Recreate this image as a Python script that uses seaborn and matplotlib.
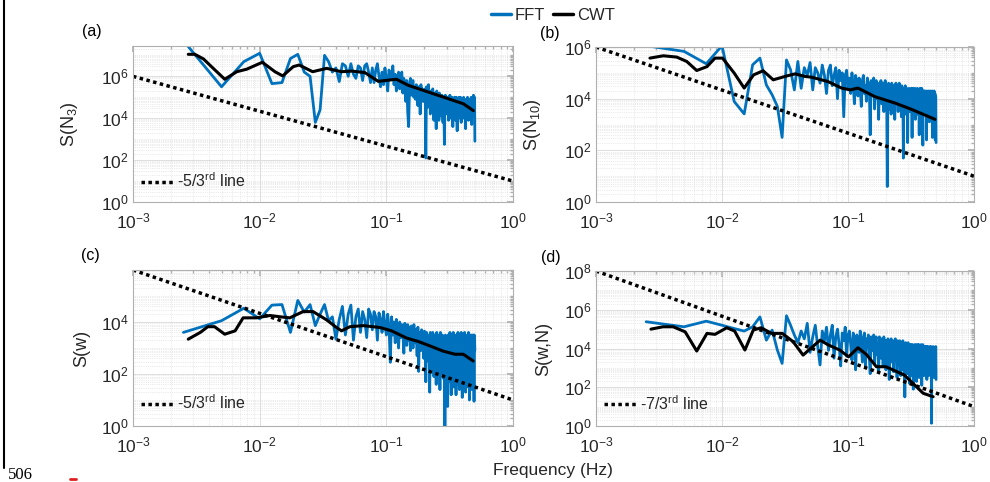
import numpy as np
import matplotlib
matplotlib.use("Agg")
import matplotlib.pyplot as plt
from matplotlib.lines import Line2D
from matplotlib.ticker import LogLocator, NullFormatter
import seaborn as sns

# FFT bins are k * 0.0025 Hz (k = 1..200); all spectra below are log10 values
bin_width = 0.0025

fft_a = [7.7, 5.5, 6.7, 7.1, 5.65, 5.7, 6.85, 7.05, 6.2, 6.0,
         3.8, 4.4, 7.0, 6.7, 6.2, 6.4, 5.75, 6.6, 6.5, 6.0,
         6.6, 6.1, 5.9, 6.5, 6.4, 5.8, 6.5, 6.6, 6.2, 5.7,
         6.4, 5.7, 6.3, 6.6, 6.0, 5.5, 6.2, 5.6, 6.4, 5.9,
         5.3, 6.3, 6.0, 5.9, 6.5, 5.6, 6.1, 5.3, 5.8, 6.2,
         5.4, 6.0, 6.2, 5.2, 5.9, 5.5, 4.8, 5.8, 4.3, 3.6,
         5.6, 5.9, 5.1, 5.7, 5.8, 5.0, 5.4, 4.9, 5.6, 5.3,
         4.6, 5.5, 5.2, 4.2, 5.6, 5.0, 5.4, 4.8, 5.3, 5.1,
         5.4, 2.1, 5.5, 4.5, 5.2, 5.6, 4.7, 5.1, 4.2, 5.3,
         5.0, 4.4, 5.4, 4.8, 3.9, 5.2, 4.6, 5.0, 3.5, 5.3,
         4.5, 5.1, 4.8, 3.9, 5.2, 4.4, 5.0, 4.7, 4.1, 5.1,
         4.6, 3.8, 5.0, 4.3, 2.75, 4.9, 5.1, 4.2, 4.7, 4.9,
         4.3, 5.0, 4.6, 3.9, 4.9, 4.5, 5.1, 4.0, 4.7, 4.8,
         4.2, 5.0, 4.4, 3.6, 4.9, 4.6, 4.1, 5.0, 4.5, 4.8,
         3.9, 4.7, 5.0, 4.3, 3.4, 4.9, 4.5, 4.7, 4.0, 5.0,
         4.6, 4.2, 4.8, 5.0, 4.4, 3.8, 4.9, 4.5, 4.7, 4.1,
         4.8, 4.4, 5.0, 4.0, 4.6, 4.9, 4.2, 4.7, 3.5, 4.8,
         4.5, 4.9, 4.1, 4.6, 5.0, 4.3, 4.7, 3.9, 4.8, 4.5,
         4.2, 4.9, 4.6, 4.0, 4.8, 4.4, 5.0, 4.3, 3.7, 4.7,
         4.9, 4.5, 4.1, 4.8, 5.1, 4.4, 4.6, 4.9, 5.0, 2.9]

fft_b = [6.05, 5.83, 5.35, 6.05, 3.89, 3.41, 5.31, 5.57, 4.53, 4.15,
         3.7, 2.5, 5.5, 5.12, 4.34, 5.44, 4.4, 5.2, 4.9, 5.4,
         4.34, 5.2, 5.0, 4.6, 5.3, 4.9, 4.2, 5.1, 5.3, 4.5,
         4.9, 5.2, 4.0, 5.1, 4.7, 5.0, 3.3, 4.9, 5.1, 4.4,
         4.8, 4.2, 5.0, 4.5, 3.8, 4.9, 4.6, 4.1, 4.8, 4.4,
         3.7, 4.7, 4.9, 4.2, 4.5, 3.9, 4.8, 4.3, 4.6, 2.6,
         4.7, 4.1, 4.5, 4.8, 3.6, 4.4, 4.7, 4.0, 4.6, 3.2,
         4.5, 4.2, 4.7, 3.8, 4.4, 4.6, 3.5, 4.3, 4.7, 4.0,
         4.5, 0.6, 4.4, 4.6, 3.6, 4.2, 4.5, 3.4, 4.6, 4.1,
         3.8, 4.5, 4.3, 3.2, 4.4, 4.6, 3.9, 4.2, 4.5, 3.5,
         4.3, 4.6, 3.7, 4.1, 4.4, 3.3, 4.5, 4.0, 4.3, 1.7,
         4.4, 3.8, 4.2, 4.5, 3.4, 4.1, 4.4, 3.9, 2.3, 4.3,
         4.0, 4.4, 3.5, 4.2, 4.3, 3.7, 4.4, 3.9, 2.5, 4.2,
         4.4, 3.6, 4.1, 4.3, 3.8, 4.4, 3.2, 4.0, 4.3, 3.7,
         4.2, 4.4, 3.4, 4.1, 4.3, 3.9, 2.6, 4.2, 4.4, 3.6,
         4.0, 4.3, 3.8, 4.4, 3.3, 4.1, 2.2, 4.2, 4.3, 3.7,
         4.1, 4.3, 3.5, 4.0, 4.2, 3.8, 4.3, 2.4, 4.1, 3.9,
         4.2, 3.4, 4.3, 4.0, 3.7, 4.2, 3.1, 4.1, 4.3, 3.6,
         4.0, 4.2, 3.3, 4.1, 3.8, 4.3, 2.5, 4.0, 4.2, 3.5,
         4.1, 3.9, 4.3, 3.2, 4.0, 4.2, 2.4, 4.1, 4.07, 2.3]

fft_c = [3.6, 4.05, 4.53, 4.12, 4.65, 4.67, 3.6, 4.83, 4.38, 4.67,
         3.86, 4.3, 4.67, 4.05, 4.2, 3.34, 4.1, 4.6, 3.5, 4.3,
         4.65, 3.3, 4.2, 4.5, 3.6, 4.4, 4.1, 3.4, 4.5, 4.3,
         3.7, 4.4, 4.2, 3.3, 4.35, 4.1, 3.6, 4.4, 3.9, 3.5,
         4.3, 3.8, 2.45, 4.2, 3.5, 4.0, 3.2, 4.1, 3.7, 3.0,
         4.0, 3.4, 3.9, 3.6, 2.8, 3.95, 3.5, 3.1, 3.9, 3.3,
         3.8, 2.9, 3.85, 3.5, 3.0, 3.9, 3.2, 3.7, 3.4, 2.7,
         3.8, 2.1, 3.6, 3.4, 2.9, 3.7, 3.1, 3.6, 2.6, 3.65,
         3.5, 1.7, 3.6, 3.0, 2.5, 3.5, 3.2, 1.3, 3.6, 2.8,
         3.4, 2.2, 3.6, 3.1, 1.9, 3.5, 2.7, 3.3, 1.6, 3.6,
         2.9, 3.4, 2.1, 3.5, 3.0, 1.4, 3.6, 2.6, 3.2, 2.0,
         3.5, 2.8, 3.4, 1.8, 3.3, -0.2, 3.5, 2.5, 3.2, 1.5,
         3.4, 0.75, 3.5, 2.9, 3.3, 1.7, 3.6, 2.4, 3.2, 1.2,
         3.5, 2.7, 3.4, 2.0, 3.6, 1.5, 3.3, 2.8, 3.5, 1.9,
         3.4, 1.2, 3.5, 2.6, 3.3, 1.6, 3.6, 2.2, 3.4, 2.9,
         1.4, 3.5, 2.5, 3.3, 1.9, 3.6, 2.3, 3.2, 1.1, 3.4,
         2.7, 3.5, 1.7, 3.3, 2.4, 3.6, 2.0, 3.4, 1.3, 3.5,
         2.8, 3.2, 1.8, 3.5, 2.5, 3.4, 1.5, 3.6, 2.2, 3.3,
         1.0, 3.5, 2.6, 3.4, 1.9, 3.5, 2.3, 3.2, 1.4, 3.5,
         2.7, 3.4, 1.8, 3.5, 2.1, 3.3, 0.95, 3.5, 3.4, 2.9]

fft_d = [5.38, 5.12, 5.41, 5.2, 5.03, 4.9, 5.12, 5.63, 4.43, 4.95,
         3.92, 3.23, 5.69, 5.2, 4.7, 4.3, 4.9, 4.5, 5.3, 3.8,
         4.6, 5.2, 4.1, 3.15, 4.9, 4.4, 5.1, 3.9, 4.7, 5.2,
         3.5, 4.6, 5.0, 4.2, 3.1, 4.8, 4.4, 5.1, 3.6, 4.7,
         4.9, 4.2, 3.4, 4.8, 4.5, 2.9, 4.7, 4.3, 3.8, 4.9,
         4.1, 3.3, 4.6, 4.8, 3.0, 4.5, 4.2, 4.7, 3.6, 2.7,
         4.6, 4.3, 3.9, 4.7, 3.2, 4.4, 4.6, 3.7, 4.2, 2.8,
         4.6, 4.0, 3.5, 4.5, 4.3, 3.1, 4.6, 3.8, 4.4, 2.9,
         4.4, 3.6, 4.5, 4.1, 2.4, 4.3, 3.9, 4.5, 3.3, 4.2,
         4.4, 2.8, 4.3, 3.8, 4.5, 3.4, 4.1, 2.5, 4.4, 3.9,
         4.2, 3.1, 4.4, 3.7, 2.6, 4.3, 4.0, 3.5, 4.4, 2.9,
         4.2, 3.8, 1.5, 4.1, 4.3, 3.3, 4.2, 2.7, 4.0, 4.3,
         3.6, 4.1, 2.2, 4.2, 3.9, 3.2, 4.2, 2.6, 4.0, 4.2,
         3.4, 1.9, 4.1, 3.8, 4.2, 2.8, 4.0, 3.5, 4.2, 2.3,
         4.1, 3.7, 4.2, 3.0, 3.9, 4.2, 2.5, 4.0, 3.6, 4.1,
         2.9, 4.2, 3.8, 2.1, 4.1, 3.5, 4.2, 3.0, 4.0, 2.6,
         4.1, 3.6, 4.0, 2.8, 4.1, 3.3, 3.9, 4.1, 2.4, 4.0,
         3.7, 4.1, 3.1, 3.9, 2.6, 4.0, 3.5, 4.1, 2.9, 3.8,
         4.0, 3.2, 4.1, 0.14, 3.9, 3.6, 4.0, 2.7, 3.8, 4.1,
         3.3, 3.9, 2.5, 4.0, 3.7, 4.0, 3.0, 3.9, 4.1, 2.4]

# CWT (wavelet) spectra: frequency (Hz) and log10 value
cwt_f_a = [0.00273, 0.00308, 0.0036, 0.0043, 0.0053, 0.0066, 0.0079, 0.0105,
           0.0132, 0.0152, 0.0184, 0.0205, 0.0262, 0.0338, 0.0443, 0.053,
           0.0676, 0.0863, 0.12, 0.149, 0.207, 0.298, 0.405, 0.487]
cwt_a = [7.05, 7.05, 6.83, 6.38, 5.86, 6.22, 6.34, 6.67,
         6.22, 6.02, 6.46, 6.54, 6.22, 6.38, 6.22, 6.25,
         6.18, 5.76, 5.86, 5.57, 5.28, 4.96, 4.69, 4.36]

cwt_f_b = [0.00268, 0.00342, 0.00437, 0.00525, 0.0063, 0.0076, 0.0088, 0.0101,
           0.0125, 0.015, 0.0178, 0.0212, 0.0255, 0.0327, 0.038, 0.0455,
           0.0515, 0.0695, 0.089, 0.104, 0.12, 0.163, 0.236, 0.318, 0.406, 0.49]
cwt_b = [5.57, 5.66, 5.61, 5.44, 5.09, 5.24, 5.57, 5.57,
         4.99, 4.41, 4.92, 5.08, 4.73, 4.88, 4.96, 4.86,
         4.83, 4.66, 4.41, 4.34, 4.41, 4.08, 3.83, 3.59, 3.37, 3.2]

cwt_f_c = [0.00273, 0.0034, 0.0039, 0.0044, 0.0053, 0.0064, 0.0074, 0.0094,
           0.0121, 0.0145, 0.0173, 0.022, 0.0264, 0.0338, 0.0404, 0.0443,
           0.0516, 0.0657, 0.089, 0.11, 0.145, 0.179, 0.221, 0.281, 0.348,
           0.405, 0.485]
cwt_c = [3.34, 3.6, 3.82, 3.82, 3.53, 3.66, 4.16, 4.16,
         4.25, 4.2, 4.16, 4.4, 4.4, 4.08, 3.79, 3.66,
         3.82, 3.86, 3.79, 3.66, 3.38, 3.25, 3.08, 2.88, 2.76,
         2.76, 2.5]

cwt_f_d = [0.00273, 0.0034, 0.0041, 0.0051, 0.0063, 0.0076, 0.0088, 0.0109,
           0.0126, 0.0152, 0.0177, 0.0204, 0.0248, 0.0301, 0.0367, 0.044,
           0.06, 0.07, 0.086, 0.101, 0.12, 0.14, 0.168, 0.2, 0.28, 0.395, 0.474]
cwt_d = [5.0, 5.12, 5.12, 4.86, 3.87, 4.78, 4.73, 5.07,
         4.9, 3.92, 4.95, 5.07, 4.78, 4.78, 4.35, 3.66,
         4.43, 4.18, 3.92, 3.57, 4.04, 3.69, 3.06, 3.06, 2.63, 1.69, 1.51]

# reference power-law lines (end points)
ref_x = [1e-3, 1.0]
ref_53 = [1e6, 1e1]
ref_73 = [1e8, 1e1]

panel_labels = ["(a)", "(b)", "(c)", "(d)"]
y_labels = ["S(N$_3$)", "S(N$_{10}$)", "S(w)", "S(w,N)"]
ref_labels = ["-5/3$^{\\mathrm{rd}}$ line", None, "-5/3$^{\\mathrm{rd}}$ line",
              "-7/3$^{\\mathrm{rd}}$ line"]

for arr in (fft_a, fft_b, fft_c, fft_d):
    assert len(arr) == 200, len(arr)
freq = np.arange(1, 201) * bin_width

sns.set_theme(style="white")
plt.rcParams["font.family"] = ["Liberation Sans", "DejaVu Sans"]
plt.rcParams["mathtext.fontset"] = "custom"
plt.rcParams["mathtext.rm"] = "Liberation Sans"
plt.rcParams["mathtext.it"] = "Liberation Sans:italic"
plt.rcParams["mathtext.bf"] = "Liberation Sans:bold"

blue = "#0072BD"
gray_edge = "#b0b0b0"
text_c = "#262626"

W, H = 990, 482
fig = plt.figure(figsize=(W / 100, H / 100), dpi=100)

# axes rectangles in pixels: left, top, right, bottom
rects = [(133, 46, 513, 202), (596, 47, 974, 202),
         (133, 270, 513, 426), (596, 271, 974, 426)]
ylims = [(1, 2.8e7), (1, 1e6), (1, 1e6), (1, 1e8)]
yticks = [[1, 1e2, 1e4, 1e6], [1, 1e2, 1e4, 1e6], [1, 1e2, 1e4],
          [1, 1e2, 1e4, 1e6, 1e8]]
ffts = [fft_a, fft_b, fft_c, fft_d]
cwt_fs = [cwt_f_a, cwt_f_b, cwt_f_c, cwt_f_d]
cwts = [cwt_a, cwt_b, cwt_c, cwt_d]
refs = [ref_53, ref_53, ref_53, ref_73]
ylab_x = [-0.139, -0.14, -0.113, -0.116]
plab_x = [-0.108, -0.122, -0.113, -0.119]
leg_y = [0.135, 0.0, 0.147, 0.147]

for i in range(4):
    l, t, r, b = rects[i]
    ax = fig.add_axes([l / W, 1 - b / H, (r - l) / W, (b - t) / H])
    ax.set_xscale("log")
    ax.set_yscale("log")

    sns.lineplot(x=freq, y=10 ** np.array(ffts[i]), ax=ax, color=blue,
                 linewidth=2.0, estimator=None, sort=False)
    sns.lineplot(x=cwt_fs[i], y=10 ** np.array(cwts[i]), ax=ax, color="black",
                 linewidth=2.2, estimator=None, sort=False)
    ref_line, = ax.plot(ref_x, refs[i], color="black", linewidth=2.5,
                        linestyle=(0, (1, 1)), solid_capstyle="butt")

    ax.set_xlim(1e-3, 1)
    ax.set_ylim(*ylims[i])
    ax.set_xticks([1e-3, 1e-2, 1e-1, 1])
    ax.set_yticks(yticks[i])
    ax.xaxis.set_minor_locator(LogLocator(base=10, subs=np.arange(2, 10), numticks=50))
    ax.yaxis.set_minor_locator(LogLocator(base=10, subs=np.arange(1, 10), numticks=50))
    ax.xaxis.set_minor_formatter(NullFormatter())
    ax.yaxis.set_minor_formatter(NullFormatter())

    ax.grid(True, which="major", color="#dedede", linewidth=0.7)
    ax.grid(True, which="minor", color="#d8d8d8", linewidth=0.5, linestyle=":")
    ax.set_axisbelow(True)
    for sp in ax.spines.values():
        sp.set_color(gray_edge)
        sp.set_linewidth(0.8)
    ax.tick_params(which="both", direction="in", top=True, right=True,
                   colors=gray_edge, labelcolor=text_c, labelsize=12.5)
    ax.tick_params(which="major", length=4)
    ax.tick_params(which="minor", length=2)
    ax.tick_params(axis="x", which="major", pad=7)
    ax.tick_params(axis="y", which="major", pad=3)

    ax.set_xlabel("")
    ax.set_ylabel(y_labels[i], fontsize=13, color=text_c)
    ax.yaxis.set_label_coords(ylab_x[i], 0.5)
    ax.text(plab_x[i], 1.09, panel_labels[i], transform=ax.transAxes,
            fontsize=11.5, color="black", ha="center", va="center")

    if ref_labels[i] is not None:
        ax.legend([ref_line], [ref_labels[i]], loc="center left",
                  bbox_to_anchor=(0.022, leg_y[i]), frameon=False,
                  fontsize=11.5, handlelength=2.1, handletextpad=0.15,
                  borderpad=0, borderaxespad=0)
    elif ax.get_legend() is not None:
        ax.get_legend().remove()

handles = [Line2D([], [], color=blue, linewidth=2.5),
           Line2D([], [], color="black", linewidth=2.5)]
fig.legend(handles, ["FFT", "CWT"], loc="center", ncol=2,
           bbox_to_anchor=(553 / W, 1 - 15 / H), frameon=False, fontsize=12,
           handlelength=1.2, handletextpad=0.2, columnspacing=0.5)

fig.text(553 / W, 1 - 470 / H, "Frequency (Hz)", ha="center", va="center",
         fontsize=12.5, color=text_c)

# page artefacts from the source document
fig.add_artist(Line2D([4 / W, 4 / W], [1 - 468 / H, 1], transform=fig.transFigure,
                      color="black", linewidth=1.5))
fig.text(8 / W, 1 - 475 / H, "506", ha="left", va="center", fontsize=12,
         family="Liberation Serif", color="black")
fig.add_artist(Line2D([70 / W, 76 / W], [1 - 479 / H, 1 - 479 / H],
                      transform=fig.transFigure, color="#e02020", linewidth=2))

fig.savefig("out.png", dpi=100)
